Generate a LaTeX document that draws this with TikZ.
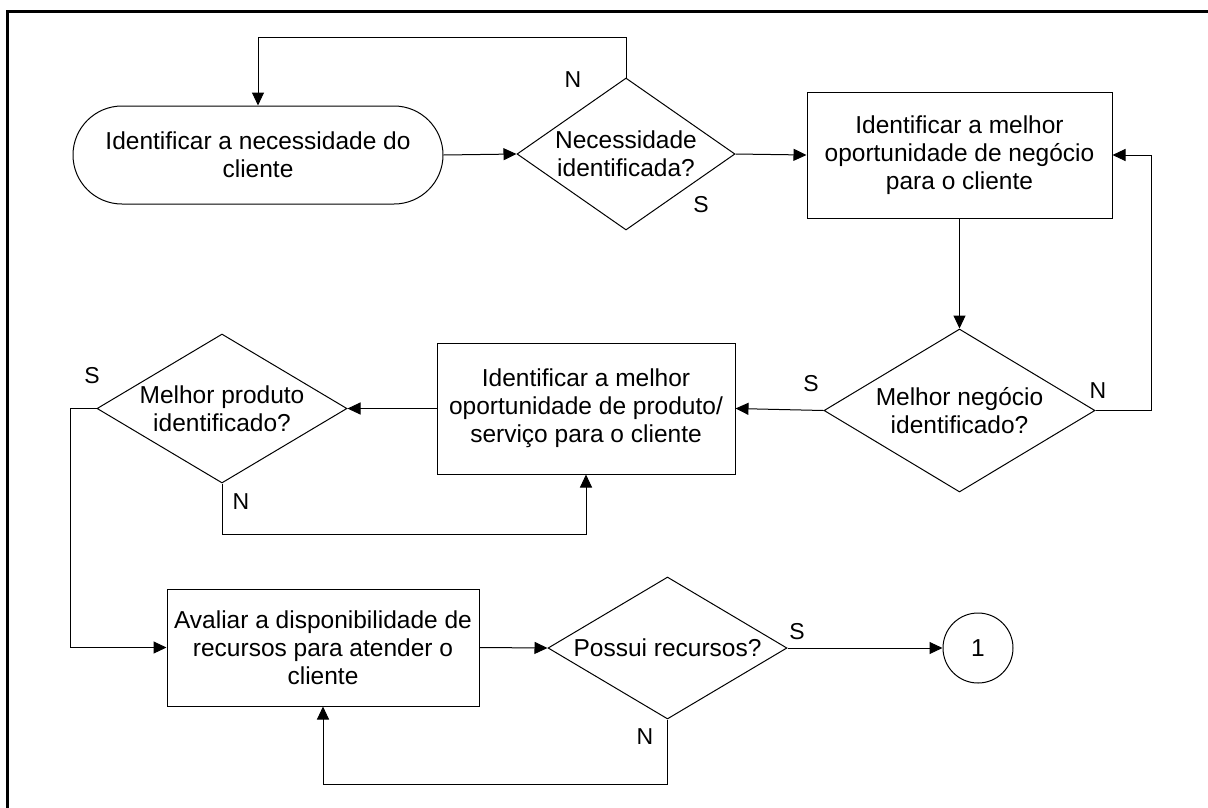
\documentclass[tikz,border=0pt]{standalone}
\usepackage{fontspec}
\setmainfont{Liberation Sans}
\usetikzlibrary{arrows.meta,shapes.geometric}
\begin{document}
\begin{tikzpicture}[x=1pt,y=-1pt,
  every node/.style={font=\fontsize{24.5pt}{28pt}\selectfont, text=black},
  stepbox/.style={draw=black, line width=1pt, rectangle, align=center, inner sep=0pt},
  termbox/.style={draw=black, line width=1pt, rectangle, rounded corners=49pt, align=center, inner sep=0pt, minimum width=370pt, minimum height=98pt},
  dia/.style={draw=black, line width=1pt, diamond, align=center, inner sep=-4pt},
  conn/.style={draw=black, line width=1pt, circle, inner sep=0pt, minimum size=70pt},
  arr/.style={line width=1pt, -{Triangle[length=13pt,width=12pt]}},
  tag/.style={font=\fontsize{23pt}{26pt}\selectfont, inner sep=0pt}
]
\useasboundingbox (0,0) rectangle (1208,807);
\clip (0,0) rectangle (1208,807);
% frame
\draw[line width=3pt] (1220,11) -- (7,11) -- (7,820);

% nodes
\node[termbox] (t1) at (258,155) {Identificar a necessidade do\\cliente};
\node[dia, minimum width=218pt, minimum height=152pt, aspect=1.43] (d1) at (626,154) {Necessidade\\identificada?};
\node[stepbox, minimum width=305pt, minimum height=126pt] (b1) at (959.5,155) {Identificar a melhor\\oportunidade de negócio\\para o cliente};
\node[dia, minimum width=271pt, minimum height=163pt, aspect=1.66] (d2) at (959.5,410.5) {Melhor negócio\\identificado?};
\node[stepbox, minimum width=298pt, minimum height=131pt] (b2) at (586,408.5) {Identificar a melhor\\oportunidade de produto/\\serviço para o cliente};
\node[dia, minimum width=250pt, minimum height=149pt, aspect=1.68] (d3) at (222,408.5) {Melhor produto\\identificado?};
\node[stepbox, minimum width=312pt, minimum height=117pt] (b3) at (323,647.5) {Avaliar a disponibilidade de\\recursos para atender o\\cliente};
\node[dia, minimum width=239pt, minimum height=142pt, aspect=1.68] (d4) at (667.5,648) {Possui recursos?};
\node[conn] (c1) at (978,648) {1};

% connectors
\draw[arr] (t1.east) -- (d1.west);
\draw[arr] (d1.north) -- ++(0,-40) -| (t1.north);
\draw[arr] (d1.east) -- (b1.west);
\draw[arr] (b1.south) -- (d2.north);
\draw[arr] (d2.east) -- ++(56,0) |- (b1.east);
\draw[arr] (d2.west) -- (b2.east);
\draw[arr] (b2.west) -- (d3.east);
\draw[arr] (d3.south) -- ++(0,51) -| (b2.south);
\draw[arr] (d3.west) -- ++(-26,0) |- (b3.west);
\draw[arr] (b3.east) -- (d4.west);
\draw[arr] (d4.east) -- (c1.west);
\draw[arr] (d4.south) -- ++(0,65) -| (b3.south);

% branch labels
\node[tag] (n1) at (573,80) {N};
\node[tag] (s1) at (701,205) {S};
\node[tag] (n2) at (1098,391) {N};
\node[tag] (s2) at (811,384) {S};
\node[tag] (s3) at (92,376) {S};
\node[tag] (n3) at (241,502) {N};
\node[tag] (s4) at (797,632) {S};
\node[tag] (n4) at (645,737) {N};
\end{tikzpicture}
\end{document}
